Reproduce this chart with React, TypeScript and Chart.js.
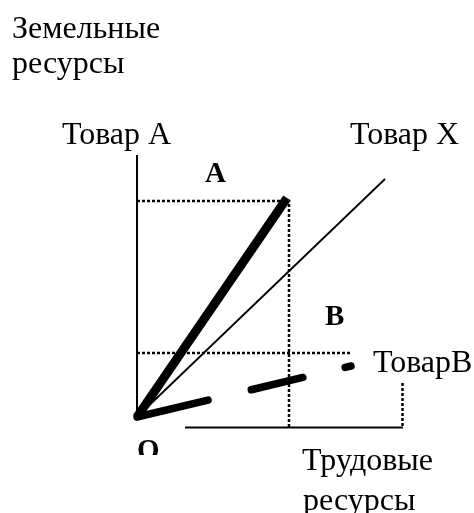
import React, { useEffect, useRef } from "react";
import { Chart, registerables } from "chart.js";

Chart.register(...registerables);

// Data (units: origin O = (0,0); labour resources on x, land resources on y)
const landAxis = [{ x: 0, y: 0 }, { x: 0, y: 26.2 }];
const labourAxis = [{ x: 4.8, y: -1.05 }, { x: 26.6, y: -1.05 }];
const rayA = [{ x: 0, y: 0 }, { x: 15.0, y: 21.9 }];
const rayX = [{ x: 0, y: 0 }, { x: 24.8, y: 23.8 }];
const rayB = [{ x: 0, y: 0 }, { x: 21.4, y: 5.1 }];
const guideA = [{ x: 0, y: 21.6 }, { x: 15.2, y: 21.6 }, { x: 15.2, y: -1.1 }];
const guideB = [{ x: 0, y: 6.4 }, { x: 21.5, y: 6.4 }];
const guideEnd = [{ x: 26.55, y: 3.4 }, { x: 26.55, y: -1.1 }];

const labelTexts = ["Земельные", "ресурсы", "Товар А", "Товар Х", "A", "B", "ТоварВ", "O", "Трудовые", "ресурсы"];
const labelX = [-12.5, -12.5, -7.5, 21.3, 6.8, 18.8, 23.6, 0, 16.5, 16.6];
const labelY = [37.9, 34.4, 27.3, 27.3, 23.5, 9.2, 4.5, -4.2, -5.3, -9.3];
const labelBold = [false, false, false, false, true, true, false, true, false, false];
const labelClipBelow = [null, null, null, null, null, null, null, -3.8, null, null];

const xMin = -13.7;
const xMax = 33.7;
const yMin = -9.6;
const yMax = 41.7;

const labelPlugin = {
  id: "textLabels",
  afterDatasetsDraw(chart: any) {
    const ctx = chart.ctx;
    const xs = chart.scales.x;
    const ys = chart.scales.y;
    ctx.save();
    ctx.fillStyle = "#000";
    ctx.textAlign = "left";
    ctx.textBaseline = "alphabetic";
    labelTexts.forEach((t, i) => {
      ctx.save();
      const clip = labelClipBelow[i];
      if (clip !== null) {
        ctx.beginPath();
        ctx.rect(0, 0, chart.width, ys.getPixelForValue(clip));
        ctx.clip();
      }
      ctx.font = labelBold[i]
        ? "bold 29px 'Liberation Serif', 'Times New Roman', serif"
        : "32px 'Liberation Serif', 'Times New Roman', serif";
      ctx.fillText(t, xs.getPixelForValue(labelX[i]), ys.getPixelForValue(labelY[i]));
      ctx.restore();
    });
    ctx.restore();
  },
};

function line(data: any[], width: number, dash: number[] = [], cap: string = "butt") {
  return {
    data,
    showLine: true,
    borderColor: "#000",
    backgroundColor: "#000",
    borderWidth: width,
    borderDash: dash,
    borderCapStyle: cap,
    pointRadius: 0,
    pointHoverRadius: 0,
    fill: false,
    tension: 0,
    clip: false,
  };
}

export default function App() {
  const ref = useRef<HTMLCanvasElement | null>(null);

  useEffect(() => {
    if (!ref.current) return;
    const chart = new Chart(ref.current, {
      type: "scatter",
      data: {
        datasets: [
          line(landAxis, 2),
          line(labourAxis, 2),
          line(guideA, 2.5, [3, 2]),
          line(guideB, 2.5, [3, 2]),
          line(guideEnd, 2.5, [3, 2]),
          line(rayX, 1.8),
          line(rayA, 9),
          line(rayB, 7.5, [73, 44.5, 53, 43.5], "round"),
        ] as any,
      },
      options: {
        animation: false,
        responsive: false,
        devicePixelRatio: 1,
        layout: { padding: 0 },
        events: [],
        plugins: {
          legend: { display: false },
          tooltip: { enabled: false },
          title: { display: false },
        },
        scales: {
          x: { type: "linear", display: false, min: xMin, max: xMax },
          y: { type: "linear", display: false, min: yMin, max: yMax },
        },
      } as any,
      plugins: [labelPlugin],
    });
    return () => chart.destroy();
  }, []);

  return (
    <div style={{ position: "absolute", left: 0, top: 0, width: 474, height: 513, background: "#fff" }}>
      <canvas ref={ref} width={474} height={513} style={{ display: "block" }} />
    </div>
  );
}
